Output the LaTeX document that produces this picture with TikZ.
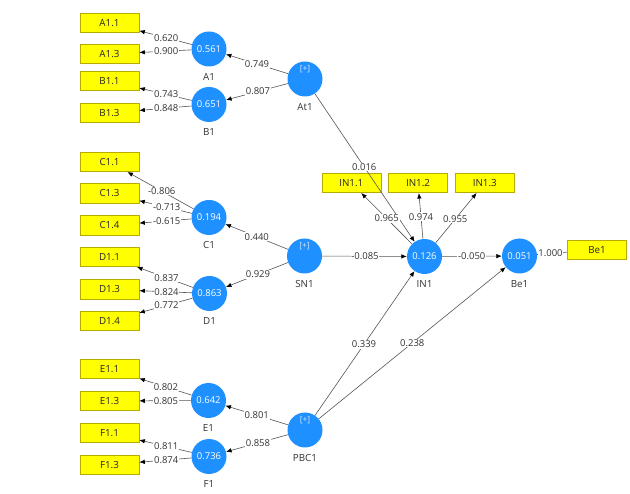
\documentclass[tikz,border=0pt]{standalone}
\usepackage{fontspec}
\setmainfont{Open Sans}
\usetikzlibrary{arrows.meta,calc}
\definecolor{circblue}{RGB}{30,144,255}
\definecolor{boxfill}{RGB}{255,255,0}
\definecolor{boxline}{RGB}{185,170,0}
\definecolor{edgegray}{RGB}{85,85,85}
\definecolor{txtgray}{RGB}{50,50,50}
\begin{document}
\begin{tikzpicture}[x=1pt,y=-1pt,
 circ/.style={circle,fill=circblue,minimum size=35pt,inner sep=0pt,text=white,font=\fontsize{9.5}{10}\selectfont},
 ind/.style={rectangle,fill=boxfill,draw=boxline,line width=0.6pt,minimum width=59pt,minimum height=19.5pt,inner sep=0pt,font=\fontsize{9.8}{10}\selectfont,text=black!85},
 nm/.style={font=\fontsize{9.8}{10}\selectfont,text=txtgray,inner sep=0pt},
 plus/.style={font=\fontsize{8.5}{9}\selectfont,text=white!80!circblue,inner sep=0pt},
 conn/.style={draw=edgegray,line width=0.6pt,-{Latex[length=5.5pt,width=4.5pt,color=black]}},
 plain/.style={draw=edgegray,line width=0.6pt},
 lbl/.style={fill=white,inner sep=0.8pt,font=\fontsize{9.5}{10}\selectfont,text=txtgray}
]
\fill[white] (0,0) rectangle (630,494);
\useasboundingbox (0,0) rectangle (630,494);

% indicator boxes
\node[ind] (A11) at (109.5,23) {A1.1};
\node[ind] (A13) at (109.5,54) {A1.3};
\node[ind] (B11) at (109.5,81) {B1.1};
\node[ind] (B13) at (109.5,113) {B1.3};
\node[ind] (C11) at (109.5,162) {C1.1};
\node[ind] (C13) at (109.5,193.5) {C1.3};
\node[ind] (C14) at (109.5,225.5) {C1.4};
\node[ind] (D11) at (109.5,257) {D1.1};
\node[ind] (D13) at (109.5,289.5) {D1.3};
\node[ind] (D14) at (109.5,321) {D1.4};
\node[ind] (E11) at (109.5,369) {E1.1};
\node[ind] (E13) at (109.5,401) {E1.3};
\node[ind] (F11) at (109.5,433) {F1.1};
\node[ind] (F13) at (109.5,464.7) {F1.3};
\node[ind] (IN11) at (351.3,183) {IN1.1};
\node[ind] (IN12) at (418,183) {IN1.2};
\node[ind] (IN13) at (484.8,183) {IN1.3};
\node[ind] (Be1b) at (597,249.7) {Be1};

% constructs
\node[circ] (A1) at (209,49) {0.561};
\node[circ] (B1) at (209,104.5) {0.651};
\node[circ] (At1) at (305,79) {};
\node[circ] (C1) at (209,217.5) {0.194};
\node[circ] (D1) at (209.5,293.5) {0.863};
\node[circ] (SN1) at (304.5,256) {};
\node[circ] (E1) at (208.5,400.5) {0.642};
\node[circ] (F1) at (209,456.5) {0.736};
\node[circ] (PBC1) at (305,430) {};
\node[circ] (IN1) at (424.5,256.5) {0.126};
\node[circ] (Be1) at (519.5,256) {0.051};

\node[plus] (pAt1) at ([yshift=10pt]At1.center) {[+]};
\node[plus] (pSN1) at ([yshift=10pt]SN1.center) {[+]};
\node[plus] (pPBC1) at ([yshift=10pt]PBC1.center) {[+]};

\foreach \n in {A1,B1,At1,C1,D1,SN1,E1,F1,PBC1,IN1,Be1}
  \node[nm] (\n name) at ([yshift=-28pt]\n.center) {\n};

% connectors
\draw[conn] (A1) -- (A11);
\draw[conn] (A1) -- (A13);
\draw[conn] (B1) -- (B11);
\draw[conn] (B1) -- (B13);
\draw[conn] (C1) -- (C11);
\draw[conn] (C1) -- (C13);
\draw[conn] (C1) -- (C14);
\draw[conn] (D1) -- (D11);
\draw[conn] (D1) -- (D13);
\draw[conn] (D1) -- (D14);
\draw[conn] (E1) -- (E11);
\draw[conn] (E1) -- (E13);
\draw[conn] (F1) -- (F11);
\draw[conn] (F1) -- (F13);
\draw[conn] (At1) -- (A1);
\draw[conn] (At1) -- (B1);
\draw[conn] (SN1) -- (C1);
\draw[conn] (SN1) -- (D1);
\draw[conn] (PBC1) -- (E1);
\draw[conn] (PBC1) -- (F1);
\draw[conn] (At1) -- (IN1);
\draw[conn] (SN1) -- (IN1);
\draw[conn] (PBC1) -- (IN1);
\draw[conn] (PBC1) -- (Be1);
\draw[conn] (IN1) -- (Be1);
\draw[conn] (IN1) -- (IN11);
\draw[conn] (IN1) -- (IN12);
\draw[conn] (IN1) -- (IN13);
\draw[plain] (Be1) -- (Be1b);

% coefficient labels
\node[lbl] (lA11) at ($(A1)!0.43!(A11)$) {0.620};
\node[lbl] (lA13) at ($(A1)!0.43!(A13)$) {0.900};
\node[lbl] (lB11) at ($(B1)!0.43!(B11)$) {0.743};
\node[lbl] (lB13) at ($(B1)!0.43!(B13)$) {0.848};
\node[lbl] (lC11) at ($(C1)!0.475!(C11)$) {-0.806};
\node[lbl] (lC13) at ($(C1)!0.425!(C13)$) {-0.713};
\node[lbl] (lC14) at ($(C1)!0.425!(C14)$) {-0.615};
\node[lbl] (lD11) at ($(D1)!0.43!(D11)$) {0.837};
\node[lbl] (lD13) at ($(D1)!0.43!(D13)$) {0.824};
\node[lbl] (lD14) at ($(D1)!0.43!(D14)$) {0.772};
\node[lbl] (lE11) at ($(E1)!0.43!(E11)$) {0.802};
\node[lbl] (lE13) at ($(E1)!0.43!(E13)$) {0.805};
\node[lbl] (lF11) at ($(F1)!0.43!(F11)$) {0.811};
\node[lbl] (lF13) at ($(F1)!0.43!(F13)$) {0.874};
\node[lbl] (lAtA) at ($(At1)!0.5!(A1)$) {0.749};
\node[lbl] (lAtB) at ($(At1)!0.49!(B1)$) {0.807};
\node[lbl] (lSNC) at ($(SN1)!0.5!(C1)$) {0.440};
\node[lbl] (lSND) at ($(SN1)!0.49!(D1)$) {0.929};
\node[lbl] (lPE) at ($(PBC1)!0.5!(E1)$) {0.801};
\node[lbl] (lPF) at ($(PBC1)!0.49!(F1)$) {0.858};
\node[lbl] (lAtIN) at ($(At1)!0.496!(IN1)$) {0.016};
\node[lbl] (lSNIN) at ($(SN1)!0.504!(IN1)$) {-0.085};
\node[lbl] (lPIN) at ($(PBC1)!0.494!(IN1)$) {0.339};
\node[lbl] (lPBe) at ($(PBC1)!0.5!(Be1)$) {0.238};
\node[lbl] (lINBe) at ($(IN1)!0.497!(Be1)$) {-0.050};
\node[lbl] (lIN11) at ($(IN1)!0.516!(IN11)$) {0.965};
\node[lbl] (lIN12) at ($(IN1)!0.54!(IN12)$) {0.974};
\node[lbl] (lIN13) at ($(IN1)!0.51!(IN13)$) {0.955};
\node[lbl] (lBe) at ($(Be1)!0.40!(Be1b)$) {1.000};
\end{tikzpicture}
\end{document}
